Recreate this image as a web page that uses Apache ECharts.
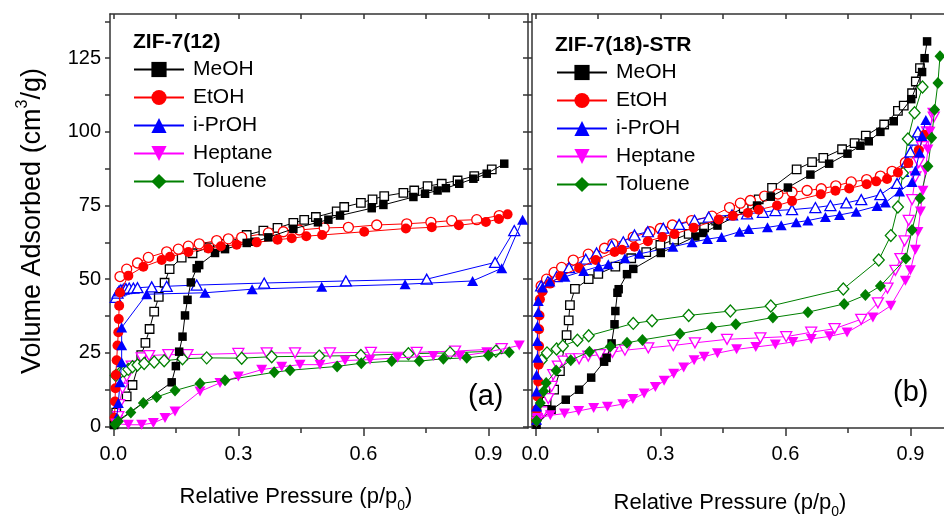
<!DOCTYPE html>
<html>
<head>
<meta charset="utf-8">
<script src="https://cdn.jsdelivr.net/npm/echarts@6/dist/echarts.min.js"></script>
<style>
html, body { margin: 0; padding: 0; background: #fff; }
#chart { width: 944px; height: 517px; }
</style>
</head>
<body>
<div id="chart"></div>
<script>
// Vapour sorption isotherms of two ZIF-7 samples (adsorption = filled, desorption = open)
const substances = ['MeOH', 'EtOH', 'i-PrOH', 'Heptane', 'Toluene'];
const panelTitles = ['ZIF-7(12)', 'ZIF-7(18)-STR'];
const panelTags = ['(a)', '(b)'];
const xTickValues = [0, 0.3, 0.6, 0.9];
const xMinorValues = [0.15, 0.45, 0.75];
const xAllValues = [0, 0.15, 0.3, 0.45, 0.6, 0.75, 0.9];
const yTickValues = [0, 25, 50, 75, 100, 125];
const yAllValues = [0, 12.5, 25, 37.5, 50, 62.5, 75, 87.5, 100, 112.5, 125, 137.5];

// ---- panel (a): ZIF-7(12) ----
const meohAdsA = [[0.002,0.5],[0.004,1.2],[0.14,15],[0.15,20.5],[0.158,25.4],[0.166,30.5],[0.172,37.7],[0.178,43],[0.186,48.9],[0.2,53.7],[0.206,54.8],[0.244,58.9],[0.268,60.2],[0.32,62.3],[0.34,62.7],[0.372,64.2],[0.432,67.1],[0.491,69.3],[0.516,70.2],[0.544,71.6],[0.62,74.1],[0.648,75.2],[0.72,77.9],[0.748,79],[0.778,80.1],[0.798,80.9],[0.83,82.4],[0.864,84.1],[0.896,85.8],[0.938,89.2]];
const meohDesA = [[0.007,4.7],[0.032,10.2],[0.046,14.1],[0.067,24.2],[0.077,28.4],[0.087,33.1],[0.098,39],[0.109,44],[0.123,48.8],[0.135,53.4],[0.164,57.3],[0.19,58.8],[0.23,60.8],[0.264,61.9],[0.32,65],[0.36,66.5],[0.394,67.4],[0.432,69.1],[0.458,70.1],[0.486,71.1],[0.536,73],[0.554,74.5],[0.594,75.9],[0.622,77.1],[0.65,78.2],[0.696,79.3],[0.722,80.1],[0.754,81.6],[0.788,82.4],[0.826,83.5],[0.866,85],[0.908,87.3]];
const etohAdsA = [[0.003,3],[0.004,8.5],[0.005,13],[0.006,17.5],[0.008,22.5],[0.01,27.5],[0.012,32],[0.013,36.5],[0.014,41],[0.016,45.5],[0.036,51.2],[0.072,54.2],[0.116,56.5],[0.136,57.6],[0.18,59.2],[0.228,60.4],[0.258,61.2],[0.296,61.7],[0.344,62.5],[0.394,63.4],[0.428,63.9],[0.463,64.6],[0.501,65],[0.602,66.1],[0.702,67.2],[0.764,67.6],[0.829,68.3],[0.894,69.4],[0.925,70.4],[0.946,72]];
const etohDesA = [[0.016,50.9],[0.032,53.4],[0.058,55.5],[0.084,57.4],[0.128,59.3],[0.156,60.2],[0.18,61.2],[0.206,62],[0.248,63.1],[0.276,63.7],[0.308,64.2],[0.372,65.7],[0.408,66.1],[0.446,66.7],[0.506,67.4],[0.564,67.6],[0.632,68.4],[0.704,68.8],[0.762,69.3],[0.812,69.9],[0.872,70.2],[0.926,71.6]];
const iproAdsA = [[0.008,3],[0.012,8],[0.016,15],[0.02,21.8],[0.02,27.6],[0.02,33.6],[0.08,44.9],[0.22,45.4],[0.333,46.6],[0.5,47.4],[0.7,48.3],[0.862,49.4],[0.932,53.7],[0.982,70.2]];
const iproDesA = [[0.006,43.8],[0.01,45.3],[0.014,46],[0.018,46.4],[0.024,46.6],[0.03,46.8],[0.038,47],[0.048,47],[0.058,47.1],[0.092,47.4],[0.128,47.6],[0.2,48],[0.362,48.7],[0.558,49.4],[0.752,50],[0.916,55.7],[0.962,66.5]];
const heptAdsA = [[0.006,1],[0.036,0.6],[0.068,0.6],[0.096,1.2],[0.124,2.9],[0.148,5.1],[0.208,11.9],[0.256,14.8],[0.3,17],[0.356,19.3],[0.404,20.3],[0.448,21],[0.496,21],[0.556,22.4],[0.616,22.7],[0.682,23.3],[0.768,23.9],[0.832,23.9],[0.896,25.2],[0.974,27.5]];
const heptDesA = [[0.008,2],[0.012,3.4],[0.014,7.4],[0.022,13],[0.032,17],[0.044,20.5],[0.068,23.3],[0.086,24.1],[0.132,24.4],[0.178,24.4],[0.3,24.8],[0.368,25],[0.436,25],[0.52,25],[0.618,25.2],[0.728,25.2],[0.82,25.6],[0.932,26.4]];
const toluAdsA = [[0.004,0.8],[0.012,1.8],[0.042,4.8],[0.072,8],[0.104,10],[0.148,12.2],[0.208,14.6],[0.268,15.7],[0.386,18.4],[0.424,19.1],[0.537,20.4],[0.595,21.5],[0.668,22.2],[0.734,22.2],[0.792,23],[0.848,23.3],[0.9,24.1],[0.95,25.2]];
const toluDesA = [[0.006,17.3],[0.016,18.2],[0.026,18.8],[0.036,19.4],[0.046,20.3],[0.058,20.9],[0.074,21.4],[0.098,21.9],[0.122,22.3],[0.166,23],[0.224,23.3],[0.308,23.2],[0.38,23.7],[0.494,23.9],[0.594,24.1],[0.708,24.7],[0.808,25],[0.918,25.6]];

// ---- panel (b): ZIF-7(18)-STR ----
const meohAdsB = [[0.003,0.6],[0.039,5.7],[0.073,9.1],[0.105,12.5],[0.134,16.6],[0.165,22],[0.171,23.3],[0.183,28.2],[0.19,34.7],[0.192,39.2],[0.197,45.4],[0.2,46.6],[0.22,51.7],[0.235,53.5],[0.301,58.9],[0.384,64.5],[0.403,65.7],[0.437,68.2],[0.532,75],[0.565,78],[0.606,81.1],[0.66,85.5],[0.705,89.2],[0.749,92.6],[0.78,95.3],[0.8,96.8],[0.828,100],[0.86,103.6],[0.902,111.1],[0.928,120.3],[0.934,125],[0.94,130.7]];
const meohDesB = [[0.008,4.5],[0.027,8.5],[0.045,12.5],[0.059,18.8],[0.075,31],[0.08,36],[0.083,41.2],[0.095,46.7],[0.128,50],[0.151,51.8],[0.192,54.3],[0.23,57.1],[0.266,59.2],[0.3,61.6],[0.333,63.4],[0.368,65.4],[0.405,67.6],[0.434,69.9],[0.5,74.1],[0.536,77.1],[0.568,81],[0.627,87.3],[0.664,89.7],[0.691,91.2],[0.736,94.1],[0.766,96.2],[0.793,98.7],[0.837,102.5],[0.87,107.1],[0.884,108.9],[0.904,113.1],[0.913,117.1],[0.923,121.6]];
const etohAdsB = [[0.002,2],[0.003,5.7],[0.005,10.2],[0.007,15.3],[0.008,21],[0.009,27.3],[0.009,33],[0.01,37.7],[0.011,43.2],[0.017,45.8],[0.035,48.5],[0.06,51],[0.105,53.8],[0.145,56.5],[0.19,59.2],[0.208,60],[0.238,61],[0.27,62.9],[0.305,64.3],[0.334,65.3],[0.38,67.5],[0.44,70.3],[0.474,71.5],[0.51,72.5],[0.536,73.6],[0.58,75],[0.616,76.5],[0.685,78.8],[0.72,80],[0.753,80.8],[0.795,82.2],[0.818,83.2],[0.844,84],[0.87,86.2],[0.895,89.4],[0.92,93.8],[0.934,99]];
const etohDesB = [[0.014,47.7],[0.027,50],[0.045,52.3],[0.063,54],[0.091,56.5],[0.127,58.5],[0.166,60.5],[0.186,62],[0.235,64.3],[0.275,66.1],[0.3,67.2],[0.329,68.4],[0.375,69.9],[0.424,71.4],[0.466,74.3],[0.492,75.8],[0.516,76.7],[0.55,78.2],[0.582,78.9],[0.616,79.5],[0.652,80.1],[0.686,80.7],[0.721,81.7],[0.758,83],[0.795,83.8],[0.828,85],[0.856,86.6],[0.888,89.6]];
const iproAdsB = [[0.003,2.3],[0.003,6.8],[0.003,11.9],[0.003,17.6],[0.005,23.3],[0.005,29],[0.005,34.1],[0.007,38.9],[0.007,42.6],[0.017,47.2],[0.035,49.2],[0.071,50.8],[0.116,52.8],[0.152,54.3],[0.175,55.1],[0.215,57.1],[0.25,58.6],[0.33,61],[0.376,62.5],[0.413,63.6],[0.447,64.3],[0.49,66.1],[0.512,67],[0.557,67.6],[0.59,68.3],[0.626,69.3],[0.654,69.9],[0.696,71.1],[0.73,71.8],[0.77,72.9],[0.82,74.8],[0.84,76],[0.874,79.8],[0.904,83],[0.912,86.9],[0.922,93],[0.928,98.6],[0.937,104]];
const iproDesB = [[0.014,47.7],[0.03,49.2],[0.051,50.9],[0.081,53.9],[0.121,56.8],[0.147,58.9],[0.183,61.4],[0.211,62.7],[0.238,65],[0.27,66.1],[0.307,67.3],[0.345,68.6],[0.382,70],[0.416,71.1],[0.472,71.8],[0.508,72.2],[0.546,72.7],[0.576,73.3],[0.616,73.6],[0.672,74.3],[0.708,75],[0.746,75.9],[0.782,77],[0.828,78.7],[0.868,82.5],[0.882,86.6],[0.891,89.8],[0.9,93.2],[0.908,97.2],[0.918,100]];
const heptAdsB = [[0.003,1.5],[0.006,2.9],[0.036,3.8],[0.07,4.4],[0.104,5.3],[0.14,6.3],[0.173,6.7],[0.21,7.6],[0.234,9.3],[0.261,11.2],[0.288,13.4],[0.309,15.5],[0.332,17.9],[0.356,20],[0.381,22.5],[0.405,23.7],[0.437,24.9],[0.483,26.2],[0.529,27],[0.576,27.8],[0.618,28.7],[0.662,29.7],[0.706,30.6],[0.748,31.9],[0.81,37],[0.853,41],[0.888,49.5],[0.9,53],[0.912,60],[0.918,66],[0.924,73],[0.93,80],[0.936,87],[0.942,94],[0.947,100],[0.953,106.5]];
const heptDesB = [[0.007,2.3],[0.02,5],[0.031,9.5],[0.039,13.6],[0.043,17.6],[0.054,20.5],[0.067,22.2],[0.086,23],[0.105,23],[0.127,23.9],[0.155,24.4],[0.185,25.2],[0.215,25.9],[0.271,26.7],[0.331,27.5],[0.383,28.4],[0.46,29.6],[0.54,30.1],[0.602,30.5],[0.662,32],[0.718,33.2],[0.782,36.4],[0.822,42],[0.845,47],[0.864,53],[0.876,57],[0.886,63],[0.896,70],[0.904,77],[0.912,84.7],[0.92,89.6],[0.928,95],[0.94,100],[0.956,105]];
const toluAdsB = [[0.003,2],[0.012,8],[0.02,12],[0.026,14.8],[0.05,19],[0.085,22.5],[0.13,25.4],[0.18,27.2],[0.22,28.4],[0.257,29.4],[0.347,31.5],[0.423,33.6],[0.481,34.7],[0.57,37],[0.654,38.8],[0.741,41.6],[0.792,44.6],[0.828,47.7],[0.889,57],[0.904,66.7],[0.923,77.5],[0.942,88.3],[0.951,98],[0.958,107.5],[0.966,116.6],[0.971,125.7]];
const toluDesB = [[0.015,22.5],[0.028,25],[0.051,26.3],[0.066,27.3],[0.101,29.3],[0.128,30.8],[0.235,35],[0.28,35.9],[0.368,37.7],[0.468,39.2],[0.565,40.9],[0.739,46.7],[0.824,56.5],[0.853,64.8],[0.87,74.5],[0.882,86],[0.894,97.6],[0.91,106.5],[0.929,115.2]];

const panelData = [
  { MeOH: [meohAdsA, meohDesA], EtOH: [etohAdsA, etohDesA], 'i-PrOH': [iproAdsA, iproDesA], Heptane: [heptAdsA, heptDesA], Toluene: [toluAdsA, toluDesA] },
  { MeOH: [meohAdsB, meohDesB], EtOH: [etohAdsB, etohDesB], 'i-PrOH': [iproAdsB, iproDesB], Heptane: [heptAdsB, heptDesB], Toluene: [toluAdsB, toluDesB] }
];

const colors = { MeOH: '#000000', EtOH: '#ff0000', 'i-PrOH': '#0000ff', Heptane: '#ff00ff', Toluene: '#008000' };
const symbols = { MeOH: 'rect', EtOH: 'circle', 'i-PrOH': 'triangle', Heptane: 'path://M0,0L10,0L5,8.66Z', Toluene: 'diamond' };
const symbolSizes = { MeOH: 8.5, EtOH: 10, 'i-PrOH': [11, 10], Heptane: [11, 10], Toluene: [11, 12] };

const SANS = '"Liberation Sans", Arial, sans-serif';
const AXIS_COLOR = '#333';

// grid geometry of the two panels (fixed, not shrunk to fit labels)
const grids = [
  { left: 110, top: 14, width: 418, height: 414, outerBoundsMode: 'none', containLabel: false },
  { left: 532, top: 14, width: 418, height: 414, outerBoundsMode: 'none', containLabel: false }
];
const X_MIN = -0.008, X_MAX = 0.995, Y_MIN = -0.5, Y_MAX = 140;

const xAxes = [];
const yAxes = [];
grids.forEach((g, i) => {
  // bottom: labels + major ticks
  xAxes.push({
    type: 'value', gridIndex: i, position: 'bottom', min: X_MIN, max: X_MAX,
    axisLine: { show: true, onZero: false, lineStyle: { color: AXIS_COLOR, width: 1.5 } },
    axisTick: { show: true, inside: false, length: 8, customValues: xTickValues, lineStyle: { color: AXIS_COLOR, width: 1.5 } },
    axisLabel: { show: true, customValues: xTickValues, formatter: v => v.toFixed(1), margin: 16, fontSize: 20, fontFamily: SANS, color: '#000' },
    splitLine: { show: false },
    name: 'Relative Pressure (p/p{sub|0})', nameLocation: 'middle', nameGap: i === 0 ? 53 : 59,
    nameTextStyle: { fontSize: 22, fontFamily: SANS, color: '#000', lineHeight: 26,
      padding: i === 0 ? [0, 46, 0, 0] : [0, 22, 0, 0],
      rich: { sub: { fontSize: 14, fontFamily: SANS, color: '#000', lineHeight: 32, verticalAlign: 'bottom' } } }
  });
  // bottom: minor ticks
  xAxes.push({
    type: 'value', gridIndex: i, position: 'bottom', min: X_MIN, max: X_MAX,
    axisLine: { show: false, onZero: false },
    axisTick: { show: true, inside: false, length: 5, customValues: xMinorValues, lineStyle: { color: AXIS_COLOR, width: 1.5 } },
    axisLabel: { show: false }, splitLine: { show: false }
  });
  // top mirror
  xAxes.push({
    type: 'value', gridIndex: i, position: 'top', min: X_MIN, max: X_MAX,
    axisLine: { show: true, onZero: false, lineStyle: { color: AXIS_COLOR, width: 1.5 } },
    axisTick: { show: true, inside: true, length: 5, customValues: xAllValues, lineStyle: { color: AXIS_COLOR, width: 1.5 } },
    axisLabel: { show: false }, splitLine: { show: false }
  });
  // left axis
  const left = {
    type: 'value', gridIndex: i, position: 'left', min: Y_MIN, max: Y_MAX,
    axisLine: { show: true, onZero: false, lineStyle: { color: AXIS_COLOR, width: 1.5 } },
    axisTick: { show: true, inside: false, length: 5, customValues: yAllValues, lineStyle: { color: AXIS_COLOR, width: 1.5 } },
    axisLabel: { show: false }, splitLine: { show: false }
  };
  if (i === 0) {
    left.axisLabel = { show: true, customValues: yTickValues, margin: 9, fontSize: 20, fontFamily: SANS, color: '#000' };
    left.name = 'Volume Adsorbed (cm{sup|3}/g)';
    left.nameLocation = 'middle';
    left.nameRotate = 90;
    left.nameGap = 59;
    left.nameTextStyle = { fontSize: 27, fontFamily: SANS, color: '#000', lineHeight: 30,
      rich: { sup: { fontSize: 16, fontFamily: SANS, color: '#000', lineHeight: 36, verticalAlign: 'top' } } };
  }
  yAxes.push(left);
  // right mirror
  yAxes.push({
    type: 'value', gridIndex: i, position: 'right', min: Y_MIN, max: Y_MAX,
    axisLine: { show: true, onZero: false, lineStyle: { color: AXIS_COLOR, width: 1.5 } },
    axisTick: { show: true, inside: true, length: 5, customValues: yAllValues, lineStyle: { color: AXIS_COLOR, width: 1.5 } },
    axisLabel: { show: false }, splitLine: { show: false }
  });
});

const series = [];
panelData.forEach((panel, p) => {
  substances.forEach(name => {
    const c = colors[name];
    const [ads, des] = panel[name];
    // desorption branch: open symbols
    series.push({
      name: name + ' desorption', type: 'line', xAxisIndex: p * 3, yAxisIndex: p * 2,
      data: des, symbol: symbols[name], symbolSize: symbolSizes[name], showAllSymbol: true,
      itemStyle: { color: '#ffffff', borderColor: c, borderWidth: 1.3 },
      lineStyle: { color: c, width: 1 }, emphasis: { disabled: true }, z: 2
    });
    // adsorption branch: filled symbols
    series.push({
      name: name, type: 'line', xAxisIndex: p * 3, yAxisIndex: p * 2,
      data: ads, symbol: symbols[name], symbolSize: symbolSizes[name], showAllSymbol: true,
      itemStyle: { color: c, borderColor: c, borderWidth: 0 },
      lineStyle: { color: c, width: 1 }, emphasis: { disabled: true }, z: 3
    });
  });
});

const legendCommon = {
  orient: 'vertical', data: substances, itemWidth: 50, itemHeight: 19, itemGap: 7, padding: 0,
  selectedMode: false, textStyle: { fontSize: 21, fontFamily: SANS, color: '#000', padding: [0, 0, 0, 4] }
};

const chart = echarts.init(document.getElementById('chart'), null, { renderer: 'canvas' });
chart.setOption({
  animation: false,
  backgroundColor: '#ffffff',
  grid: grids,
  xAxis: xAxes,
  yAxis: yAxes,
  legend: [
    Object.assign({ left: 133, top: 59 }, legendCommon),
    Object.assign({ left: 556, top: 62 }, legendCommon)
  ],
  graphic: [
    { type: 'text', x: 133, y: 42, style: { text: panelTitles[0], fontSize: 21, fontWeight: 'bold', fontFamily: SANS, fill: '#000', verticalAlign: 'middle' } },
    { type: 'text', x: 555, y: 45, style: { text: panelTitles[1], fontSize: 21, fontWeight: 'bold', fontFamily: SANS, fill: '#000', verticalAlign: 'middle' } },
    { type: 'text', x: 468, y: 397, style: { text: panelTags[0], fontSize: 29, fontFamily: SANS, fill: '#000', verticalAlign: 'middle' } },
    { type: 'text', x: 893, y: 393, style: { text: panelTags[1], fontSize: 29, fontFamily: SANS, fill: '#000', verticalAlign: 'middle' } }
  ],
  series: series
});
</script>
</body>
</html>
